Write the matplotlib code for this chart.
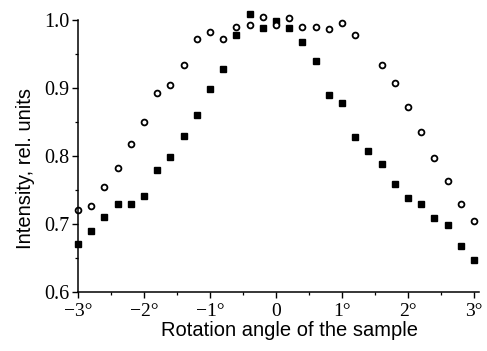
import matplotlib
matplotlib.use("Agg")
import matplotlib.pyplot as plt
from matplotlib.ticker import MultipleLocator


# =========================
# Data
# =========================

# filled squares, every 0.2 deg from -3 to 3
square_angle = [-3.0, -2.8, -2.6, -2.4, -2.2, -2.0, -1.8, -1.6, -1.4, -1.2,
                -1.0, -0.8, -0.6, -0.4, -0.2, 0.0, 0.2, 0.4, 0.6, 0.8,
                1.0, 1.2, 1.4, 1.6, 1.8, 2.0, 2.2, 2.4, 2.6, 2.8, 3.0]
square_intensity = [0.670, 0.690, 0.711, 0.730, 0.730, 0.741, 0.780, 0.799, 0.829, 0.860,
                    0.899, 0.928, 0.978, 1.009, 0.988, 0.999, 0.988, 0.968, 0.939, 0.889,
                    0.878, 0.828, 0.808, 0.789, 0.759, 0.739, 0.729, 0.709, 0.699, 0.667,
                    0.647]

# open circles (no point visible at 1.4 deg)
circle_angle = [-3.0, -2.8, -2.6, -2.4, -2.2, -2.0, -1.8, -1.6, -1.4, -1.2,
                -1.0, -0.8, -0.6, -0.4, -0.2, 0.0, 0.2, 0.4, 0.6, 0.8,
                1.0, 1.2, 1.6, 1.8, 2.0, 2.2, 2.4, 2.6, 2.8, 3.0]
circle_intensity = [0.720, 0.727, 0.755, 0.783, 0.817, 0.850, 0.892, 0.905, 0.934, 0.972,
                    0.983, 0.972, 0.990, 0.993, 1.005, 0.993, 1.003, 0.989, 0.989, 0.987,
                    0.996, 0.978, 0.934, 0.908, 0.872, 0.835, 0.797, 0.764, 0.730, 0.705]

x_ticks = [-3, -2, -1, 0, 1, 2, 3]
x_tick_labels = ["\u22123\u00b0", "\u22122\u00b0", "\u22121\u00b0", "0", "1\u00b0", "2\u00b0", "3\u00b0"]
y_ticks = [0.6, 0.7, 0.8, 0.9, 1.0]
y_tick_labels = ["0.6", "0.7", "0.8", "0.9", "1.0"]


# =========================
# Chart
# =========================

fig = plt.figure(figsize=(4.87, 3.51), dpi=100)
ax = fig.add_axes([0.160, 0.168, 0.824, 0.775])

ax.plot(square_angle, square_intensity, linestyle="none", marker="s",
        markersize=4.3, color="black", clip_on=False)
ax.plot(circle_angle, circle_intensity, linestyle="none", marker="o",
        markersize=4.2, markerfacecolor="white", markeredgecolor="black",
        markeredgewidth=1.3, clip_on=False)

ax.set_xlim(-3, 3.08)
ax.set_ylim(0.6, 1.0)

for side in ["top", "right"]:
    ax.spines[side].set_visible(False)
for side in ["left", "bottom"]:
    ax.spines[side].set_linewidth(1.1)

ax.set_xticks(x_ticks)
ax.set_xticklabels(x_tick_labels, family="Liberation Serif", fontsize=14)
ax.set_yticks(y_ticks)
ax.set_yticklabels(y_tick_labels, family="Liberation Serif", fontsize=14.5)
ax.xaxis.set_minor_locator(MultipleLocator(0.5))
ax.yaxis.set_minor_locator(MultipleLocator(0.05))
ax.tick_params(which="major", direction="out", length=4, width=1.0)
ax.tick_params(axis="x", which="major", pad=4)
ax.tick_params(axis="y", which="major", pad=2)
ax.tick_params(which="minor", direction="out", length=2.5, width=0.9)

ax.set_xlabel("Rotation angle of the sample", family="Liberation Sans", fontsize=14.5)
ax.set_ylabel("Intensity, rel. units", family="Liberation Sans", fontsize=14.5)
ax.xaxis.set_label_coords(0.527, -0.108)
ax.yaxis.set_label_coords(-0.130, 0.455)
ax.yaxis.label.set_verticalalignment("center")

fig.savefig("out.png", dpi=100)
